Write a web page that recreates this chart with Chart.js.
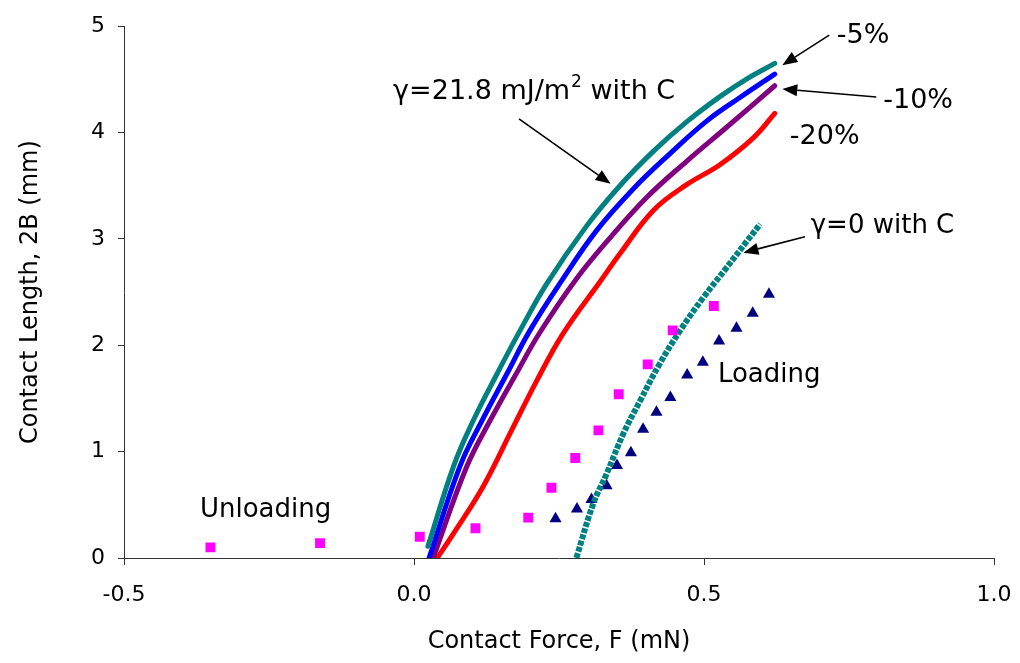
<!DOCTYPE html>
<html>
<head>
<meta charset="utf-8">
<script src="https://cdn.jsdelivr.net/npm/chart.js@4/dist/chart.umd.min.js"></script>
<style>
    html, body { margin: 0; padding: 0; background: #fff; }
</style>
</head>
<body>
<canvas id="contactChart" width="1020" height="663"></canvas>
<script>
// model curves: contact force F (mN) vs contact length 2B (mm)
const gammaForce   = [0.024, 0.068, 0.102, 0.143, 0.183, 0.229, 0.298, 0.355, 0.413, 0.470, 0.528, 0.574, 0.622]
const gammaLength  = [0.11, 0.86, 1.29, 1.73, 2.14, 2.58, 3.125, 3.50, 3.825, 4.10, 4.34, 4.505, 4.65]

const minus5Force  = [0.026, 0.079, 0.119, 0.160, 0.200, 0.255, 0.315, 0.378, 0.441, 0.505, 0.562, 0.622]
const minus5Length = [0.00, 0.86, 1.31, 1.73, 2.14, 2.61, 3.08, 3.47, 3.80, 4.11, 4.33, 4.55]

const minus10Force  = [0.033, 0.091, 0.131, 0.177, 0.217, 0.278, 0.338, 0.401, 0.470, 0.539, 0.622]
const minus10Length = [0.00, 0.86, 1.29, 1.74, 2.12, 2.61, 3.01, 3.39, 3.73, 4.05, 4.44]

const minus20Force  = [0.040, 0.068, 0.119, 0.171, 0.212, 0.257, 0.321, 0.355, 0.413, 0.470, 0.528, 0.585, 0.622]
const minus20Length = [0.00, 0.23, 0.67, 1.23, 1.67, 2.11, 2.60, 2.86, 3.27, 3.51, 3.70, 3.95, 4.18]

const noAdhesionForce  = [0.280, 0.309, 0.332, 0.361, 0.390, 0.424, 0.459, 0.499, 0.539, 0.574, 0.597]
const noAdhesionLength = [0.00, 0.51, 0.79, 1.17, 1.48, 1.83, 2.14, 2.45, 2.73, 2.98, 3.14]

// measurements
const unloadingForce  = [-0.351, -0.162, 0.010, 0.106, 0.197, 0.237, 0.278, 0.318, 0.353, 0.403, 0.446, 0.517]
const unloadingLength = [0.10, 0.14, 0.20, 0.28, 0.38, 0.66, 0.94, 1.20, 1.54, 1.82, 2.14, 2.37]

const loadingForce  = [0.244, 0.281, 0.306, 0.332, 0.350, 0.374, 0.395, 0.418, 0.442, 0.471, 0.498, 0.526, 0.556, 0.584, 0.612]
const loadingLength = [0.37, 0.46, 0.55, 0.68, 0.87, 0.99, 1.21, 1.37, 1.51, 1.72, 1.84, 2.04, 2.16, 2.30, 2.48]

const forceTicks  = [-0.5, 0.0, 0.5, 1.0]
const lengthTicks = [0, 1, 2, 3, 4, 5]

const FONT = '"DejaVu Sans", Verdana, sans-serif'
const AXIS = '#333'

function points(xs, ys) {
    return xs.map((x, i) => ({x: x, y: ys[i]}))
}

function curve(xs, ys, color) {
    return {
        data: points(xs, ys),
        showLine: true,
        borderColor: color,
        borderWidth: 5,
        borderCapStyle: 'round',
        pointRadius: 0,
        tension: 0.4,
        clip: 0,
        order: 5
    }
}

// callouts, placed in data units
const notes = [
    {text: 'γ=21.8 mJ/m', sup: '2', tail: ' with C', x: -0.036, y: 4.315, size: 27},
    {text: '-5%',        x: 0.729,  y: 4.840, size: 27},
    {text: '-10%',       x: 0.809,  y: 4.231, size: 27},
    {text: '-20%',       x: 0.648,  y: 3.893, size: 27},
    {text: 'γ=0 with C', x: 0.684,  y: 3.058, size: 26},
    {text: 'Loading',    x: 0.524,  y: 1.651, size: 26},
    {text: 'Unloading',  x: -0.369, y: 0.385, size: 26}
]

const arrows = [
    {from: [0.181, 4.128], to: [0.339, 3.518]},
    {from: [0.716, 4.916], to: [0.635, 4.634]},
    {from: [0.797, 4.334], to: [0.635, 4.409]},
    {from: [0.674, 3.021], to: [0.568, 2.871]}
]

function drawArrow(ctx, x1, y1, x2, y2) {
    const ang = Math.atan2(y2 - y1, x2 - x1)
    const len = 15, half = 6
    const bx = x2 - Math.cos(ang) * len
    const by = y2 - Math.sin(ang) * len
    ctx.lineWidth = 1.6
    ctx.beginPath()
    ctx.moveTo(x1, y1)
    ctx.lineTo(bx, by)
    ctx.stroke()
    ctx.beginPath()
    ctx.moveTo(x2, y2)
    ctx.lineTo(bx - Math.sin(ang) * half, by + Math.cos(ang) * half)
    ctx.lineTo(bx + Math.sin(ang) * half, by - Math.cos(ang) * half)
    ctx.closePath()
    ctx.fill()
}

const callouts = {
    id: 'callouts',
    afterDatasetsDraw(chart) {
        const {ctx, scales: {x, y}} = chart
        ctx.save()
        ctx.fillStyle = '#000'
        ctx.strokeStyle = '#000'
        ctx.textAlign = 'left'
        ctx.textBaseline = 'alphabetic'
        for (const n of notes) {
            let px = x.getPixelForValue(n.x)
            const py = y.getPixelForValue(n.y)
            ctx.font = n.size + 'px ' + FONT
            ctx.fillText(n.text, px, py)
            if (n.sup) {
                px += ctx.measureText(n.text).width + 1
                ctx.font = '17px ' + FONT
                ctx.fillText(n.sup, px, py - 12)
                px += ctx.measureText(n.sup).width
                ctx.font = n.size + 'px ' + FONT
                ctx.fillText(n.tail, px, py)
            }
        }
        for (const a of arrows) {
            drawArrow(ctx,
                x.getPixelForValue(a.from[0]), y.getPixelForValue(a.from[1]),
                x.getPixelForValue(a.to[0]), y.getPixelForValue(a.to[1]))
        }
        ctx.restore()
    }
}

new Chart(document.getElementById('contactChart'), {
    type: 'scatter',
    data: {
        datasets: [
            curve(gammaForce, gammaLength, '#008080'),
            curve(minus5Force, minus5Length, '#0000ff'),
            curve(minus10Force, minus10Length, '#800080'),
            curve(minus20Force, minus20Length, '#ff0000'),
            {
                data: points(loadingForce, loadingLength),
                pointStyle: 'triangle',
                pointRadius: 7,
                backgroundColor: '#000080',
                borderColor: '#000080',
                borderWidth: 0,
                order: 3
            },
            {
                data: points(noAdhesionForce, noAdhesionLength),
                showLine: true,
                borderColor: '#008080',
                borderWidth: 6,
                borderDash: [5, 1.5],
                pointRadius: 0,
                tension: 0.4,
                clip: 0,
                order: 2
            },
            {
                data: points(unloadingForce, unloadingLength),
                pointStyle: 'rect',
                pointRadius: 7,
                backgroundColor: '#ff00ff',
                borderColor: '#ff00ff',
                borderWidth: 0,
                order: 1
            }
        ]
    },
    options: {
        responsive: false,
        animation: false,
        devicePixelRatio: 1,
        layout: {padding: {top: 25, right: 26, left: 0, bottom: 0}},
        plugins: {
            legend: {display: false},
            tooltip: {enabled: false}
        },
        scales: {
            x: {
                type: 'linear',
                min: -0.5,
                max: 1.0,
                afterBuildTicks: s => { s.ticks = forceTicks.map(v => ({value: v})) },
                afterFit: s => {
                    s.height = 105
                    s.paddingLeft = 0
                    s.paddingRight = 0
                },
                grid: {drawOnChartArea: false, tickLength: 7, color: AXIS},
                border: {color: AXIS, width: 1},
                ticks: {
                    autoSkip: false,
                    maxRotation: 0,
                    padding: 17,
                    color: '#000',
                    font: {family: FONT, size: 22},
                    callback: v => v.toFixed(1)
                },
                title: {
                    display: true,
                    text: 'Contact Force, F (mN)',
                    color: '#000',
                    font: {family: FONT, size: 24},
                    padding: {top: 0, bottom: 7}
                }
            },
            y: {
                type: 'linear',
                min: 0,
                max: 5,
                afterBuildTicks: s => { s.ticks = lengthTicks.map(v => ({value: v})) },
                afterFit: s => { s.width = 124 },
                grid: {drawOnChartArea: false, tickLength: 6, color: AXIS},
                border: {color: AXIS, width: 1},
                ticks: {
                    autoSkip: false,
                    padding: 13,
                    color: '#000',
                    font: {family: FONT, size: 22},
                    callback: v => String(v)
                },
                title: {
                    display: true,
                    text: 'Contact Length, 2B (mm)',
                    color: '#000',
                    font: {family: FONT, size: 24},
                    padding: {top: 16, bottom: 0}
                }
            }
        }
    },
    plugins: [callouts]
})
</script>
</body>
</html>
